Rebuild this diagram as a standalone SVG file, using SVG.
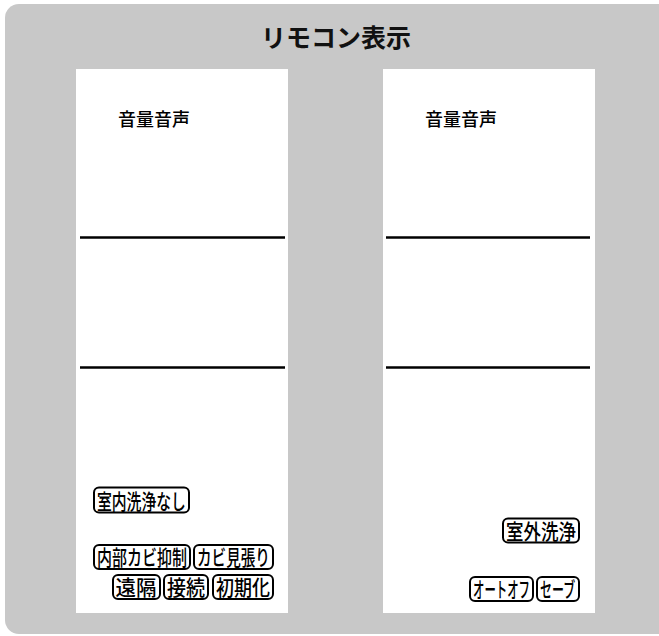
<svg xmlns="http://www.w3.org/2000/svg" width="659" height="636" viewBox="0 0 659 636">
<style>
.bg{fill:#c8c8c8}
.panel{fill:#fff}
.sep{stroke:#000;stroke-width:2.6}
.title{font-family:"Noto Sans CJK JP","Noto Sans",sans-serif;font-weight:bold;font-size:25px;fill:#111}
.lbl{font-family:"Noto Sans CJK JP","Noto Sans",sans-serif;font-size:18px;font-weight:500;fill:#000}
.badge rect{fill:#fff;stroke:#000;stroke-width:2}
.badge text{font-family:"Noto Sans CJK JP","Noto Sans",sans-serif;font-size:21px;font-weight:500;fill:#000}
</style>
<rect class="bg" x="5" y="4" width="680" height="630" rx="14"/>
<text class="title" x="336" y="47" text-anchor="middle">リモコン表示</text>
<g id="left-panel">
<rect class="panel" x="76" y="69" width="212" height="544"/>
<text class="lbl" x="118" y="126">音量音声</text>
<line class="sep" x1="80" y1="237.5" x2="285" y2="237.5"/>
<line class="sep" x1="80" y1="367.5" x2="285" y2="367.5"/>
<g class="badge" id="b-shitsunai"><rect x="94" y="487.5" width="95" height="25" rx="5"/><text transform="matrix(0.706,0,0,1,97,508.5)">室内洗浄なし</text></g>
<g class="badge" id="b-naibu"><rect x="94" y="545" width="96" height="24" rx="5"/><text transform="matrix(0.714,0,0,1,97,565)">内部カビ抑制</text></g>
<g class="badge" id="b-mihari"><rect x="194" y="545" width="79" height="24" rx="5"/><text transform="matrix(0.695,0,0,1,197,565)">カビ見張り</text></g>
<g class="badge" id="b-enkaku"><rect x="113" y="575" width="47" height="24" rx="5"/><text transform="matrix(0.976,0,0,1,115.5,595)">遠隔</text></g>
<g class="badge" id="b-setsuzoku"><rect x="164" y="575" width="44" height="24" rx="5"/><text transform="matrix(0.905,0,0,1,167,595)">接続</text></g>
<g class="badge" id="b-shokika"><rect x="213" y="575" width="60" height="24" rx="5"/><text transform="matrix(0.857,0,0,1,216,595)">初期化</text></g>
</g>
<g id="right-panel">
<rect class="panel" x="383" y="69" width="212" height="544"/>
<text class="lbl" x="425" y="126">音量音声</text>
<line class="sep" x1="386" y1="237.5" x2="590" y2="237.5"/>
<line class="sep" x1="386" y1="367.5" x2="590" y2="367.5"/>
<g class="badge" id="b-shitsugai"><rect x="503" y="518.5" width="76" height="24" rx="5"/><text transform="matrix(0.833,0,0,1,506,538.5)">室外洗浄</text></g>
<g class="badge" id="b-autooff"><rect x="470" y="577" width="63" height="24" rx="5"/><text transform="matrix(0.543,0,0,1,473,597)">オートオフ</text></g>
<g class="badge" id="b-save"><rect x="537" y="577" width="42" height="24" rx="5"/><text transform="matrix(0.571,0,0,1,540,597)">セーブ</text></g>
</g>
</svg>
